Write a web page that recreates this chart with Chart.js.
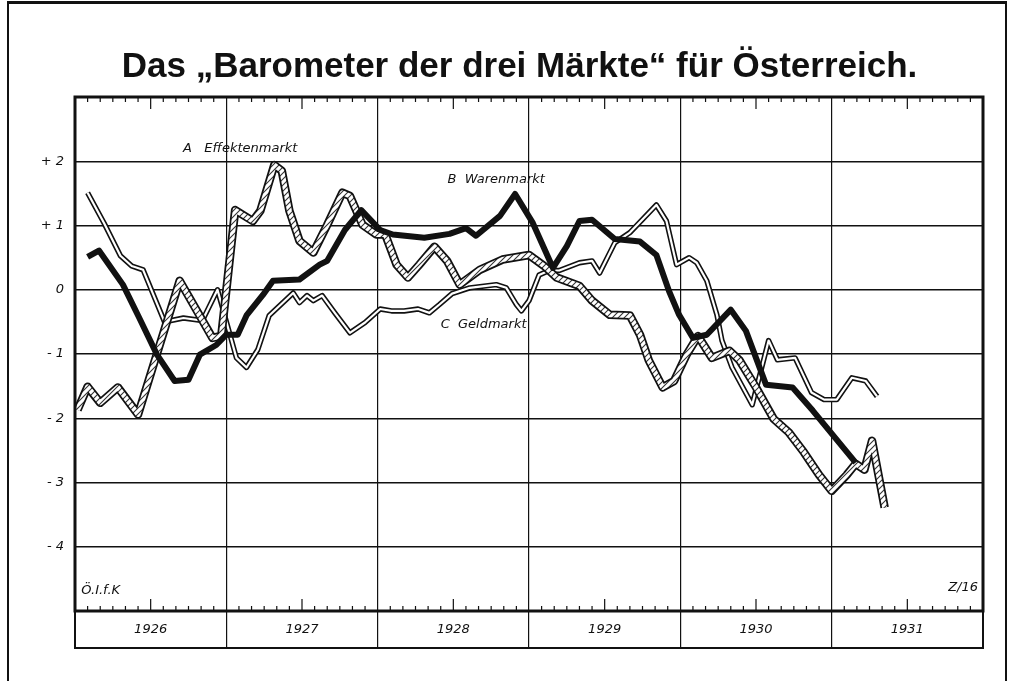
<!DOCTYPE html>
<html>
<head>
<meta charset="utf-8">
<script src="https://cdn.jsdelivr.net/npm/chart.js@4/dist/chart.umd.min.js"></script>
<style>
  html, body { margin: 0; padding: 0; background: #fff; }
  #wrap { position: relative; width: 1013px; height: 681px; }
  #sheet {
    position: absolute; left: 7px; top: 1px; width: 996px; height: 700px;
    border: 2px solid #111; border-top-width: 3px; border-bottom: none; pointer-events: none;
  }
</style>
</head>
<body>
<div id="wrap">
  <canvas id="chart"></canvas>
  <div id="sheet"></div>
</div>
<script>
/* Barometer der drei Märkte, Österreich 1926-1931
   x = Monate seit Jänner 1926, y = Abweichung */

const YEARS = ["1926", "1927", "1928", "1929", "1930", "1931"];
const MONTHS_TOTAL = 72;

// A  Effektenmarkt
const monthsA = [0.2, 1.0, 2.0, 3.4, 5.0, 8.3, 10.9, 11.6, 12.7, 14.1,
  14.7, 15.8, 16.4, 17.0, 17.8, 18.9, 20.0, 21.2, 21.8, 22.8,
  23.9, 24.6, 25.5, 26.4, 27.3, 28.5, 29.5, 30.5, 32.1, 33.9,
  36.0, 37.2, 38.2, 40.0, 41.0, 42.4, 44.0, 44.8, 45.5, 46.6,
  47.5, 48.5, 49.4, 50.5, 51.9, 52.7, 54.0, 55.4, 56.6, 57.8,
  59.0, 60.0, 61.2, 61.9, 62.6, 63.2, 64.2];
const effektenmarkt = [-1.87, -1.51, -1.76, -1.52, -1.94, 0.14, -0.75, -0.72, 1.24, 1.07,
  1.23, 1.94, 1.85, 1.23, 0.76, 0.58, 1.01, 1.51, 1.46, 1.01,
  0.86, 0.86, 0.39, 0.19, 0.39, 0.67, 0.45, 0.08, 0.31, 0.47,
  0.54, 0.37, 0.19, 0.06, -0.17, -0.39, -0.4, -0.7, -1.1, -1.52,
  -1.42, -1.01, -0.72, -1.06, -0.95, -1.1, -1.52, -2.01, -2.22, -2.53,
  -2.88, -3.13, -2.88, -2.71, -2.8, -2.35, -3.39];

// B  Warenmarkt
const monthsB = [1.0, 1.9, 3.8, 5.1, 6.5, 7.9, 9.0, 9.9, 11.2, 12.0,
  12.9, 13.6, 14.9, 15.7, 17.8, 19.4, 20.0, 21.4, 22.7, 24.2,
  25.2, 27.7, 29.7, 31.0, 31.8, 33.7, 34.9, 36.3, 37.9, 39.0,
  40.0, 41.0, 42.8, 44.8, 46.1, 47.1, 47.9, 49.0, 50.1, 52.0,
  53.2, 54.8, 56.9, 58.5, 61.9];
const warenmarkt = [0.51, 0.61, 0.08, -0.44, -1.01, -1.42, -1.4, -1.01, -0.86, -0.7,
  -0.7, -0.4, -0.08, 0.14, 0.16, 0.39, 0.45, 0.93, 1.24, 0.93,
  0.86, 0.81, 0.87, 0.96, 0.84, 1.15, 1.49, 1.04, 0.34, 0.68,
  1.07, 1.09, 0.79, 0.75, 0.54, -0.02, -0.39, -0.75, -0.7, -0.31,
  -0.64, -1.48, -1.52, -1.88, -2.69];

// C  Geldmarkt
const monthsC = [1.0, 2.3, 3.6, 4.5, 5.4, 7.1, 8.6, 10.1, 11.3, 12.8,
  13.6, 14.5, 15.4, 17.3, 17.8, 18.4, 18.9, 19.6, 20.6, 21.8,
  23.0, 24.2, 25.1, 26.1, 27.2, 28.1, 28.9, 29.9, 31.3, 33.4,
  34.2, 35.0, 35.4, 36.0, 36.8, 37.6, 38.4, 40.0, 41.0, 41.6,
  42.8, 44.0, 46.1, 46.9, 47.7, 48.7, 49.3, 50.1, 50.9, 51.3,
  52.1, 53.7, 55.0, 55.7, 57.1, 58.4, 59.4, 60.4, 61.6, 62.7, 63.6];
const geldmarkt = [1.51, 1.04, 0.53, 0.37, 0.31, -0.5, -0.44, -0.48, 0.0, -1.06,
  -1.21, -0.93, -0.4, -0.05, -0.2, -0.09, -0.17, -0.09, -0.36, -0.67,
  -0.51, -0.3, -0.33, -0.33, -0.3, -0.36, -0.23, -0.06, 0.03, 0.08,
  0.03, -0.23, -0.33, -0.17, 0.23, 0.3, 0.3, 0.42, 0.45, 0.26,
  0.73, 0.89, 1.32, 1.07, 0.39, 0.5, 0.42, 0.14, -0.39, -0.79,
  -1.21, -1.79, -0.79, -1.09, -1.06, -1.6, -1.71, -1.71, -1.37, -1.42, -1.66];

const Y_TICKS = [-4, -3, -2, -1, 0, 1, 2];

// text in the drawing, anchored in data units
const notes = [
  { text: "A   Effektenmarkt", month: 13.1, value: 2.2, align: "center" },
  { text: "B  Warenmarkt", month: 33.4, value: 1.71, align: "center" },
  { text: "C  Geldmarkt", month: 32.4, value: -0.54, align: "center" },
  { text: "Ö.I.f.K", month: 0.5, value: -4.69, align: "left" },
  { text: "Z/16", month: 71.6, value: -4.64, align: "right" },
];

const TITLE = "Das \u201EBarometer der drei Märkte\u201C für Österreich.";
const BAND = 37;
const INK = "#111";

function points(xs, ys) {
  return xs.map((m, i) => ({ x: m, y: ys[i] }));
}

function hatchPattern() {
  const c = document.createElement("canvas");
  c.width = c.height = 6;
  const g = c.getContext("2d");
  g.fillStyle = "#fff";
  g.fillRect(0, 0, 6, 6);
  g.strokeStyle = "#333";
  g.lineWidth = 1.1;
  g.beginPath();
  g.moveTo(0, 6); g.lineTo(6, 0);
  g.moveTo(-1, 1); g.lineTo(1, -1);
  g.moveTo(5, 7); g.lineTo(7, 5);
  g.stroke();
  return g.createPattern(c, "repeat");
}

const framePlugin = {
  id: "frame",
  afterDraw(chart) {
    const { ctx, chartArea: a, scales: { x, y } } = chart;
    ctx.save();
    ctx.strokeStyle = INK;
    ctx.fillStyle = INK;

    // month ticks top and bottom
    ctx.lineWidth = 1.2;
    for (let m = 1; m < MONTHS_TOTAL; m++) {
      if (m % 12 === 0) continue;
      const px = x.getPixelForValue(m);
      const len = m % 12 === 6 ? 12 : 5;
      ctx.beginPath();
      ctx.moveTo(px, a.top); ctx.lineTo(px, a.top + len);
      ctx.moveTo(px, a.bottom); ctx.lineTo(px, a.bottom - len);
      ctx.stroke();
    }

    // frame + year band
    ctx.lineWidth = 3;
    ctx.strokeRect(a.left, a.top, a.right - a.left, a.bottom - a.top);
    ctx.lineWidth = 2;
    ctx.strokeRect(a.left, a.bottom, a.right - a.left, BAND);

    // labels
    ctx.font = "italic 13px 'DejaVu Sans'";
    ctx.textBaseline = "middle";
    notes.forEach((n) => {
      ctx.textAlign = n.align;
      ctx.fillText(n.text, x.getPixelForValue(n.month), y.getPixelForValue(n.value));
    });

    // title
    ctx.font = "bold 35px 'Liberation Sans'";
    ctx.textAlign = "center";
    ctx.fillText(TITLE, chart.width / 2 + 13, 67);
    ctx.restore();
  },
};

new Chart(document.getElementById("chart"), {
  type: "line",
  data: {
    datasets: [
      { data: points(monthsB, warenmarkt), borderColor: INK, borderWidth: 6, order: 0 },
      { data: points(monthsA, effektenmarkt), borderColor: hatchPattern(), borderWidth: 5, order: 1 },
      { data: points(monthsA, effektenmarkt), borderColor: INK, borderWidth: 8.5, order: 2 },
      { data: points(monthsC, geldmarkt), borderColor: "#fff", borderWidth: 2.2, order: 3 },
      { data: points(monthsC, geldmarkt), borderColor: INK, borderWidth: 5.4, order: 4 },
    ],
  },
  options: {
    responsive: true,
    maintainAspectRatio: false,
    animation: false,
    layout: { padding: { top: 97, right: 30, bottom: 681 - 611 - BAND, left: 0 } },
    elements: {
      point: { radius: 0, hoverRadius: 0 },
      line: { tension: 0, fill: false, borderJoinStyle: "round", borderCapStyle: "butt" },
    },
    plugins: {
      legend: { display: false },
      tooltip: { enabled: false },
      title: { display: false },
    },
    scales: {
      x: {
        type: "linear",
        min: 0,
        max: MONTHS_TOTAL,
        afterBuildTicks: (s) => {
          s.ticks = [];
          for (let v = 0; v <= MONTHS_TOTAL; v += 6) s.ticks.push({ value: v });
        },
        afterFit: (s) => { s.height = BAND; },
        border: { display: false },
        grid: {
          color: (c) => (c.tick && c.tick.value % 12 === 0 ? INK : "rgba(0,0,0,0)"),
          lineWidth: 1.2,
          tickLength: BAND,
        },
        ticks: {
          autoSkip: false,
          maxRotation: 0,
          padding: -26,
          color: INK,
          font: { family: "'DejaVu Sans'", size: 13, style: "italic" },
          callback: (v) => (v % 12 === 6 ? YEARS[(v - 6) / 12] : ""),
        },
      },
      y: {
        min: -5,
        max: 3,
        afterBuildTicks: (s) => {
          s.ticks = [];
          for (let v = -5; v <= 3; v++) s.ticks.push({ value: v });
        },
        afterFit: (s) => { s.width = 75; },
        border: { display: false },
        grid: { color: INK, lineWidth: 1.5, drawTicks: false },
        ticks: {
          padding: 11,
          color: INK,
          font: { family: "'DejaVu Sans'", size: 13, style: "italic" },
          callback: (v) => {
            if (!Y_TICKS.includes(v)) return "";
            if (v > 0) return "+ " + v;
            if (v < 0) return "- " + Math.abs(v);
            return "0";
          },
        },
      },
    },
  },
  plugins: [framePlugin],
});
</script>
</body>
</html>
